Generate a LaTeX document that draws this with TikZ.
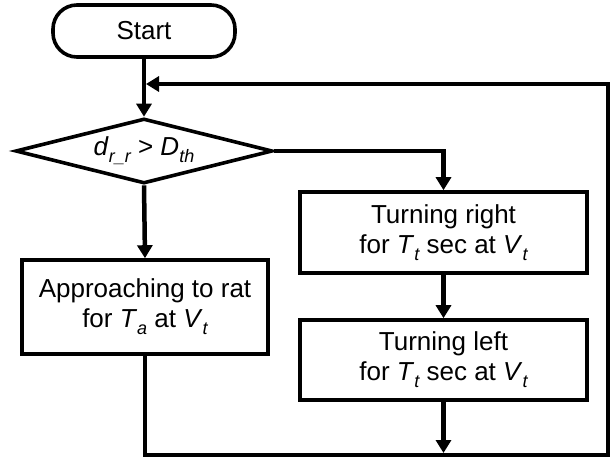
\documentclass[tikz,border=0pt]{standalone}
\usepackage{fontspec}
\setmainfont{Liberation Sans}
\usetikzlibrary{arrows.meta,shapes.geometric}
\newcommand{\lowsub}[1]{\raisebox{-0.5ex}{\fontsize{18}{18}\selectfont\itshape #1}}
\begin{document}
\begin{tikzpicture}[x=1pt,y=-1pt,
  box/.style={draw,line width=3.6pt,rectangle,minimum width=#1,align=center,inner sep=0pt,
    font=\fontsize{26}{30}\selectfont},
  conn/.style={line width=4.5pt,-{Triangle[width=15pt,length=13pt]}}]
\useasboundingbox (0,0) rectangle (611,459);
\node[box=182pt,minimum height=52pt,rounded corners=24pt] (start) at (144,31) {Start};
\node[draw,line width=3.6pt,diamond,aspect=4,inner sep=0pt,minimum width=257pt,minimum height=65pt,
  font=\fontsize{26}{30}\selectfont] (dec) at (144,151) {\textit{d}\lowsub{r\_r} > \textit{D}\lowsub{th}};
\node[box=246pt,minimum height=94pt] (appr) at (145,307) {Approaching to rat\\for \textit{T}\lowsub{a} at \textit{V}\lowsub{t}};
\node[box=287pt,minimum height=81pt] (tr) at (443.5,232.5) {Turning right\\for \textit{T}\lowsub{t} sec at \textit{V}\lowsub{t}};
\node[box=287pt,minimum height=80pt] (tl) at (443.5,360) {Turning left\\for \textit{T}\lowsub{t} sec at \textit{V}\lowsub{t}};
\coordinate (bl) at (145,455);
\coordinate (br) at (608,455);
\coordinate (tr0) at (608,84);
\coordinate (join) at (146,84);
\coordinate (tlb) at (443.5,453);
\draw[conn] (start.south) -- (dec.north);
\draw[conn] (dec.east) -| (tr.north);
\draw[conn] (dec.south) -- (appr.north);
\draw[conn] (tr.south) -- (tl.north);
\draw[conn] (tl.south) -- (tlb);
\draw[conn,line join=miter] (appr.south) -- (bl) -- (br) -- (tr0) -- (join);
\end{tikzpicture}
\end{document}
